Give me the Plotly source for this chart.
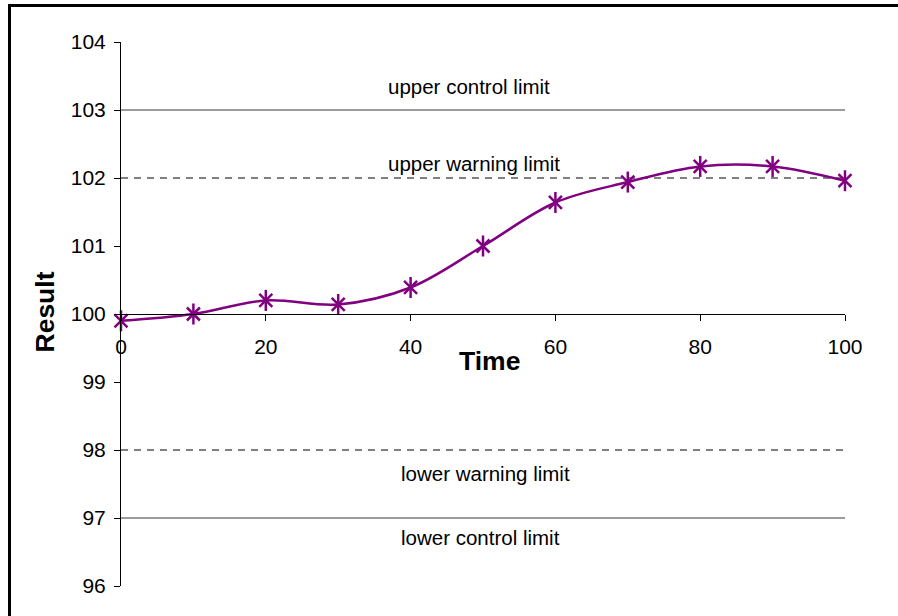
import plotly.graph_objects as go

# ---- data ----
time = [0, 10, 20, 30, 40, 50, 60, 70, 80, 90, 100]
result = [99.9, 100.0, 100.2, 100.14, 100.39, 101.0, 101.64, 101.94, 102.17, 102.17, 101.96]

control_limits = [103, 97]
warning_limits = [102, 98]
limit_x = [0, 100]

limit_labels = ["upper control limit", "upper warning limit", "lower warning limit", "lower control limit"]
label_x = [48.1, 48.8, 50.3, 49.6]
label_y = [103.34, 102.22, 97.66, 96.72]

y_ticks = [96, 97, 98, 99, 100, 101, 102, 103, 104]
x_ticks = [0, 20, 40, 60, 80, 100]

FONT = "Liberation Sans, Arial, sans-serif"
PURPLE = "#800080"

fig = go.Figure()

for yv in control_limits:
    fig.add_trace(go.Scatter(x=limit_x, y=[yv, yv], mode="lines",
                             line=dict(color="#7a7a7a", width=1.5),
                             hoverinfo="skip", showlegend=False, cliponaxis=False))
for yv in warning_limits:
    fig.add_trace(go.Scatter(x=limit_x, y=[yv, yv], mode="lines",
                             line=dict(color="black", width=1, dash="7px,6px"),
                             hoverinfo="skip", showlegend=False, cliponaxis=False))

fig.add_trace(go.Scatter(x=time, y=result, mode="lines",
                         line=dict(color=PURPLE, width=2.5, shape="spline", smoothing=1),
                         showlegend=False, cliponaxis=False))
fig.add_trace(go.Scatter(x=time, y=result, mode="markers",
                         marker=dict(symbol="x-thin-open", size=13, color=PURPLE,
                                     line=dict(color=PURPLE, width=2.5)),
                         showlegend=False, cliponaxis=False))
fig.add_trace(go.Scatter(x=time, y=result, mode="markers",
                         marker=dict(symbol="line-ns-open", size=15, color=PURPLE,
                                     line=dict(color=PURPLE, width=2.5)),
                         showlegend=False, cliponaxis=False, hoverinfo="skip"))

L, R, T, B = 121, 53, 42, 30
W, H = 898, 616
pw, ph = W - L - R, H - T - B

annotations = []
for txt, xv, yv in zip(limit_labels, label_x, label_y):
    annotations.append(dict(x=xv, y=yv, xref="x", yref="y", text=txt, showarrow=False,
                            font=dict(family=FONT, size=20.5, color="black"),
                            xanchor="center", yanchor="middle"))
annotations.append(dict(x=(489 - L) / pw, y=(H - B - 361) / ph, xref="paper", yref="paper",
                        text="<b>Time</b>", showarrow=False,
                        font=dict(family=FONT, size=26.5, color="black"),
                        xanchor="center", yanchor="middle"))
annotations.append(dict(x=(44 - L) / pw, y=(H - B - 312.5) / ph, xref="paper", yref="paper",
                        text="<b>Result</b>", showarrow=False, textangle=-90,
                        font=dict(family=FONT, size=26.5, color="black"),
                        xanchor="center", yanchor="middle"))

# outer frame (left and top edges visible)
shapes = [
    dict(type="line", xref="paper", yref="paper",
         x0=(9.5 - L) / pw, x1=(9.5 - L) / pw, y0=(H - B - 640) / ph, y1=(H - B - 4) / ph,
         line=dict(color="black", width=3), layer="above"),
    dict(type="line", xref="paper", yref="paper",
         x0=(8 - L) / pw, x1=(910 - L) / pw, y0=(H - B - 5.5) / ph, y1=(H - B - 5.5) / ph,
         line=dict(color="black", width=3), layer="above"),
]

fig.update_layout(
    width=W, height=H,
    margin=dict(l=L, r=R, t=T, b=B, pad=0),
    paper_bgcolor="white", plot_bgcolor="white",
    showlegend=False,
    annotations=annotations,
    shapes=shapes,
    xaxis=dict(range=[0, 100], tickvals=x_ticks, ticks="outside", ticklen=6,
               tickcolor="black", showline=True, linecolor="black", linewidth=1,
               showgrid=False, zeroline=False, anchor="free", position=0.5,
               tickfont=dict(family=FONT, size=21, color="black"),
               ticklabelstandoff=8),
    yaxis=dict(range=[96, 104], tickvals=y_ticks, ticks="outside", ticklen=6,
               tickcolor="black", showline=True, linecolor="black", linewidth=1,
               showgrid=False, zeroline=False,
               tickfont=dict(family=FONT, size=21, color="black"),
               ticklabelstandoff=4),
)

fig.write_html("out.html", config={"displayModeBar": False},
               post_script="document.body.style.margin='0';document.body.style.overflow='hidden';")
